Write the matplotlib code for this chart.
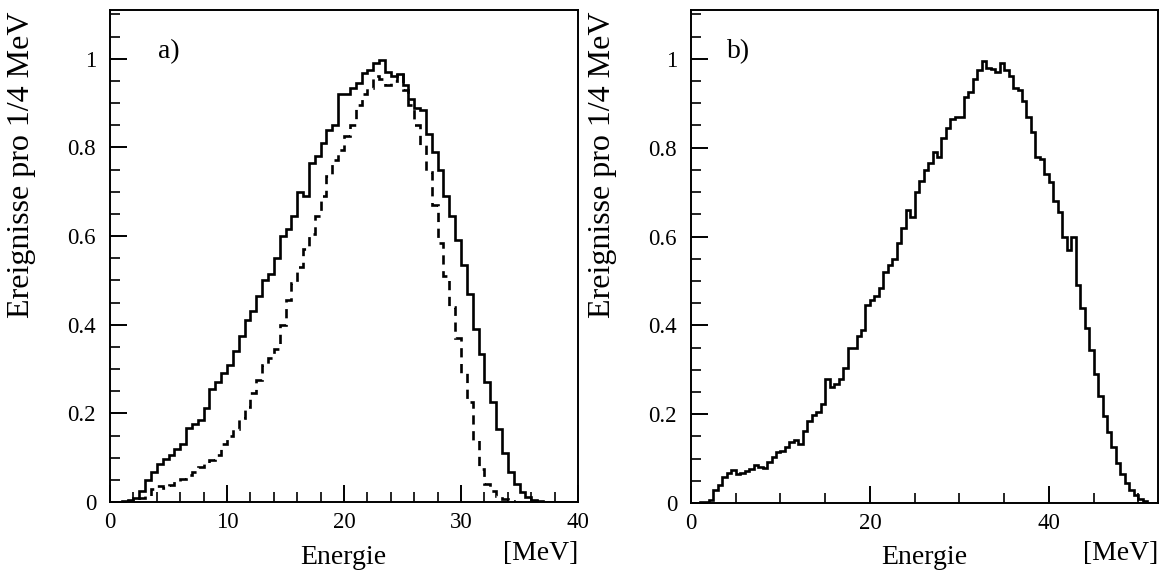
import numpy as np
import matplotlib
matplotlib.use("Agg")
import matplotlib.pyplot as plt
from matplotlib.ticker import MultipleLocator

# ---------------- data (bin width 0.5 MeV) ----------------
bin_width = 0.5
range_a = 40.0
range_b = 52.2

a_solid = [
    0, 0, 0.002, 0.004, 0.01, 0.025, 0.05, 0.068, 0.085, 0.097,
    0.105, 0.12, 0.13, 0.168, 0.175, 0.185, 0.212, 0.255, 0.27, 0.29,
    0.31, 0.34, 0.375, 0.41, 0.43, 0.465, 0.5, 0.515, 0.55, 0.6,
    0.615, 0.645, 0.70, 0.69, 0.765, 0.78, 0.81, 0.84, 0.85, 0.92,
    0.92, 0.935, 0.945, 0.968, 0.975, 0.99, 0.998, 0.97, 0.962, 0.965,
    0.94, 0.91, 0.89, 0.885, 0.83, 0.79, 0.75, 0.69, 0.645, 0.59,
    0.535, 0.47, 0.39, 0.335, 0.27, 0.225, 0.165, 0.11, 0.068, 0.04,
    0.022, 0.012, 0.005, 0.003, 0.001, 0, 0, 0, 0, 0,
]

a_dashed = [
    0, 0, 0, 0, 0.003, 0.008, 0.014, 0.03, 0.036, 0.032,
    0.038, 0.047, 0.052, 0.06, 0.068, 0.078, 0.086, 0.095, 0.106, 0.13,
    0.148, 0.165, 0.19, 0.215, 0.245, 0.275, 0.31, 0.325, 0.345, 0.40,
    0.455, 0.495, 0.53, 0.57, 0.605, 0.645, 0.69, 0.735, 0.772, 0.795,
    0.825, 0.85, 0.895, 0.92, 0.935, 0.962, 0.955, 0.94, 0.95, 0.967,
    0.93, 0.895, 0.85, 0.805, 0.745, 0.67, 0.585, 0.51, 0.44, 0.37,
    0.29, 0.225, 0.14, 0.075, 0.04, 0.025, 0.014, 0.007, 0.003, 0.001,
    0, 0, 0, 0, 0, 0, 0, 0, 0, 0,
]

b_solid = [
    0, 0, 0.002, 0.003, 0.006, 0.03, 0.04, 0.058, 0.068, 0.074,
    0.065, 0.068, 0.072, 0.077, 0.086, 0.08, 0.078, 0.092, 0.104, 0.114,
    0.116, 0.125, 0.137, 0.142, 0.133, 0.163, 0.185, 0.198, 0.205, 0.222,
    0.28, 0.262, 0.268, 0.28, 0.305, 0.35, 0.35, 0.375, 0.39, 0.445,
    0.458, 0.465, 0.485, 0.52, 0.535, 0.55, 0.585, 0.62, 0.66, 0.645,
    0.70, 0.725, 0.75, 0.765, 0.79, 0.78, 0.822, 0.845, 0.865, 0.868,
    0.87, 0.915, 0.925, 0.955, 0.975, 0.995, 0.98, 0.977, 0.97, 0.99,
    0.975, 0.962, 0.935, 0.93, 0.905, 0.87, 0.835, 0.78, 0.775, 0.74,
    0.722, 0.68, 0.655, 0.6, 0.57, 0.598, 0.49, 0.44, 0.395, 0.345,
    0.29, 0.24, 0.195, 0.16, 0.125, 0.09, 0.065, 0.045, 0.03, 0.018,
    0.01, 0.004, 0.001, 0,
]

y_ticks = [0, 0.2, 0.4, 0.6, 0.8, 1.0]
y_ticklabels = ["0", "0.2", "0.4", "0.6", "0.8", "1"]
panel_labels = ["a)", "b)"]
ylabel_text = "Ereignisse pro 1/4 MeV"
xlabel_text = "Energie"
unit_text = "[MeV]"

# ---------------- figure ----------------
plt.rcParams['font.family'] = ['Liberation Serif', 'DejaVu Serif']

W, H = 1159, 574
fig = plt.figure(figsize=(W / 100, H / 100), dpi=100)

def px_axes(l, r, t, b):
    return [l / W, 1 - b / H, (r - l) / W, (b - t) / H]

ax_a = fig.add_axes(px_axes(110, 578, 10, 502))
ax_b = fig.add_axes(px_axes(691, 1158, 10, 503))

edges_a = np.arange(len(a_solid) + 1) * bin_width
edges_b = np.arange(len(b_solid) + 1) * bin_width

ax_a.stairs(a_solid, edges_a, color='black', lw=1.9, baseline=None)
ax_a.stairs(a_dashed, edges_a, color='black', lw=1.9, baseline=None,
            linestyle=(0, (3.5, 2.5)))
ax_b.stairs(b_solid, edges_b, color='black', lw=1.9, baseline=None)

ax_a.set_xlim(0, range_a)
ax_b.set_xlim(0, range_b)
for ax in (ax_a, ax_b):
    ax.set_ylim(0, 1.11)
    for s in ax.spines.values():
        s.set_linewidth(1.4)
    ax.yaxis.set_minor_locator(MultipleLocator(0.05))
    ax.set_yticks(y_ticks)
    ax.set_yticklabels(y_ticklabels)
    ax.tick_params(which='major', direction='in', length=12, width=1.4,
                   labelsize=16.5, top=False, right=False)
    ax.tick_params(which='minor', direction='in', length=7, width=1.2,
                   top=False, right=False)
    ax.tick_params(axis='y', which='major', pad=10)
    ax.tick_params(axis='x', which='major', pad=7)

ax_a.xaxis.set_major_locator(MultipleLocator(10))
ax_a.xaxis.set_minor_locator(MultipleLocator(2))
ax_b.xaxis.set_major_locator(MultipleLocator(20))
ax_b.xaxis.set_minor_locator(MultipleLocator(5))

# panel labels
ax_a.text(4.1, 1.016, panel_labels[0], fontsize=20, ha='left', va='center')
ax_b.text(4.0, 1.016, panel_labels[1], fontsize=20, ha='left', va='center')

# y labels (top aligned, like PAW)
fig.text(22 / W, 1 - 12 / H, ylabel_text, rotation=90, fontsize=23,
         ha='center', va='top')
fig.text(603 / W, 1 - 12 / H, ylabel_text, rotation=90, fontsize=23,
         ha='center', va='top')

# x labels
fig.text(343 / W, 1 - 557 / H, xlabel_text, fontsize=20, ha='center', va='center')
fig.text(924 / W, 1 - 557 / H, xlabel_text, fontsize=20, ha='center', va='center')
fig.text(578 / W, 1 - 553 / H, unit_text, fontsize=20, ha='right', va='center')
fig.text(1158 / W, 1 - 553 / H, unit_text, fontsize=20, ha='right', va='center')

fig.savefig("out.png", dpi=100)
